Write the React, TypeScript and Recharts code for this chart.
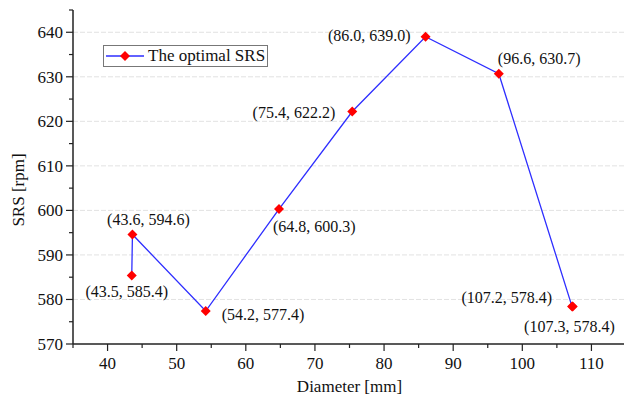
import React from 'react';
import { LineChart, Line, XAxis, YAxis, CartesianGrid, LabelList } from 'recharts';

// diameter [mm] and optimal SRS [rpm], in drawing order
const diameters = [43.5, 43.6, 54.2, 64.8, 75.4, 86.0, 96.6, 107.2, 107.3];
const srsValues = [585.4, 594.6, 577.4, 600.3, 622.2, 639.0, 630.7, 578.4, 578.4];

const xTicks = [35, 40, 45, 50, 55, 60, 65, 70, 75, 80, 85, 90, 95, 100, 105, 110, 115];
const yTicks = [570, 575, 580, 585, 590, 595, 600, 605, 610, 615, 620, 625, 630, 635, 640, 645];
const gridValues = [580, 590, 600, 610, 620, 630, 640];

const SERIES_NAME = 'The optimal SRS';
const LINE_COLOR = '#2e2eff';
const MARK_COLOR = '#ff0000';
const FONT = '"Liberation Serif", "Times New Roman", serif';
const MARK_SIZE = 5;

// label placement for each point: dx, dy, anchor
const labelPos: [number, number, string][] = [
  [-5, 22, 'middle'],
  [16, -9, 'middle'],
  [16, 9, 'start'],
  [-6, 23, 'start'],
  [-17, 6, 'end'],
  [-15, 4, 'end'],
  [-1, -10, 'start'],
  [-20, -4, 'end'],
  [42, 25, 'end'],
];

const data = diameters.map((d, i) => ({ d, srs: srsValues[i] }));

const Diamond = ({ cx, cy }: any) => {
  const r = MARK_SIZE;
  return (
    <polygon
      points={`${cx},${cy - r} ${cx + r},${cy} ${cx},${cy + r} ${cx - r},${cy}`}
      fill={MARK_COLOR}
    />
  );
};

const XTick = ({ x, y, payload }: any) => {
  const major = payload.value % 10 === 0;
  return (
    <g>
      <line x1={x} x2={x} y1={y} y2={y + (major ? 7 : 4)} stroke="#222" strokeWidth={1.2} />
      {major && payload.value > 35 && payload.value < 115 && (
        <text x={x} y={y + 25} textAnchor="middle" fontFamily={FONT} fontSize={17} fill="#111">
          {payload.value}
        </text>
      )}
    </g>
  );
};

const YTick = ({ x, y, payload }: any) => {
  const major = payload.value % 10 === 0;
  return (
    <g>
      <line x1={x - (major ? 7 : 4)} x2={x} y1={y} y2={y} stroke="#222" strokeWidth={1.2} />
      {major && (
        <text x={x - 10} y={y + 6} textAnchor="end" fontFamily={FONT} fontSize={17} fill="#111">
          {payload.value}
        </text>
      )}
    </g>
  );
};

const PointLabel = ({ x, y, index }: any) => {
  const [dx, dy, anchor] = labelPos[index];
  return (
    <text x={x + dx} y={y + dy} textAnchor={anchor} fontFamily={FONT} fontSize={16} fill="#111">
      {`(${diameters[index].toFixed(1)}, ${srsValues[index].toFixed(1)})`}
    </text>
  );
};

export default function App() {
  return (
    <div style={{ position: 'absolute', left: 0, top: 0, width: 624, height: 404, background: '#fff' }}>
      <LineChart width={624} height={404} data={data} margin={{ top: 10, right: -2, left: 0, bottom: 0 }}>
        <CartesianGrid
          vertical={false}
          horizontalValues={gridValues}
          stroke="#e2e2e2"
          strokeDasharray="5 2"
        />
        <XAxis
          dataKey="d"
          type="number"
          domain={[35, 115]}
          ticks={xTicks}
          interval={0}
          height={60}
          tickSize={0}
          tickMargin={0}
          tick={<XTick />}
          axisLine={{ stroke: '#222', strokeWidth: 1.5 }}
          label={{
            value: 'Diameter [mm]',
            position: 'insideBottom',
            offset: 12,
            style: { fontFamily: FONT, fontSize: 17, fill: '#111' },
          }}
        />
        <YAxis
          type="number"
          domain={[570, 645]}
          ticks={yTicks}
          interval={0}
          width={73}
          tickSize={0}
          tickMargin={0}
          tick={<YTick />}
          axisLine={{ stroke: '#222', strokeWidth: 1.5 }}
          label={{
            content: () => (
              <text
                x={24}
                y={190}
                transform="rotate(-90 24 190)"
                textAnchor="middle"
                fontFamily={FONT}
                fontSize={17}
                fill="#111"
              >
                SRS [rpm]
              </text>
            ),
          }}
        />
        <Line
          dataKey="srs"
          name={SERIES_NAME}
          type="linear"
          stroke={LINE_COLOR}
          strokeWidth={1.3}
          dot={<Diamond />}
          activeDot={false}
          isAnimationActive={false}
        >
          <LabelList dataKey="srs" content={<PointLabel />} />
        </Line>
      </LineChart>
      <div
        style={{
          position: 'absolute',
          left: 103,
          top: 45,
          height: 20,
          border: '1px solid #777',
          display: 'flex',
          alignItems: 'center',
          paddingRight: 2,
          background: '#fff',
        }}
      >
        <svg width={44} height={20}>
          <line x1={2} x2={40} y1={10} y2={10} stroke={LINE_COLOR} strokeWidth={1.3} />
          <Diamond cx={21} cy={10} />
        </svg>
        <span style={{ fontFamily: FONT, fontSize: 17, color: '#111', lineHeight: '20px' }}>{SERIES_NAME}</span>
      </div>
    </div>
  );
}
